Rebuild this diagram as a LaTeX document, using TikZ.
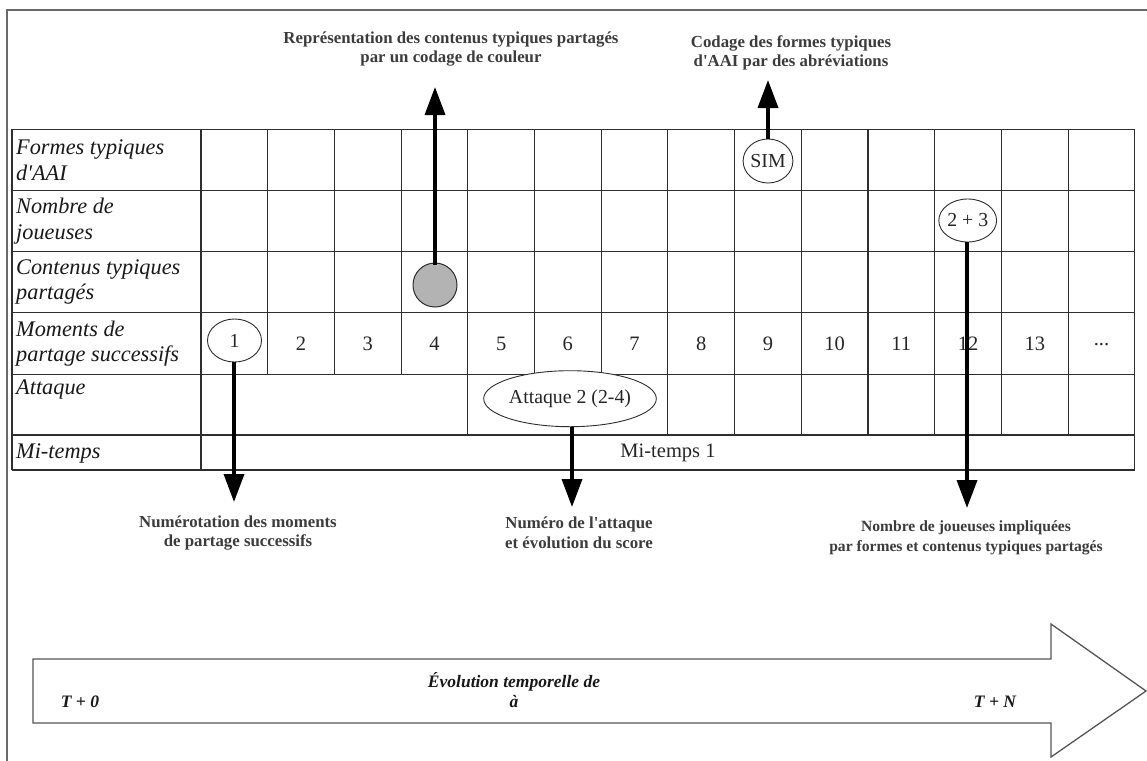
\documentclass[tikz,border=0pt]{standalone}
\usepackage{fontspec}
\setmainfont{Liberation Serif}
\usetikzlibrary{shapes.geometric,arrows.meta}
\definecolor{gridc}{HTML}{2E2E2E}
\definecolor{framec}{HTML}{6A6A6A}
\definecolor{labelc}{HTML}{3C3C3C}
\definecolor{dotc}{HTML}{B3B3B3}
\newcommand{\sq}{\textquotesingle}
\begin{document}
\begin{tikzpicture}[x=1pt,y=-1pt,
  gridline/.style={draw=gridc,line width=1.1pt},
  rowlab/.style={anchor=west,align=left,inner sep=0pt,font=\fontsize{22.3}{25.5}\selectfont\itshape,text=black!90},
  numtxt/.style={inner sep=0pt,font=\fontsize{20.5}{24}\selectfont,text=black!85},
  oval/.style={ellipse,draw=gridc,line width=0.9pt,fill=white,inner sep=0pt,font=\fontsize{19.8}{22}\selectfont,text=black!85},
  note/.style={align=center,inner sep=0pt,font=\fontsize{16.8}{19.5}\selectfont\bfseries,text=labelc},
  bigarrow/.style={-{Triangle[width=20pt,length=28pt]},line width=3.5pt,black},
  timetxt/.style={inner sep=0pt,font=\fontsize{17.5}{20}\selectfont\bfseries\itshape,text=black!90,align=center}]
\useasboundingbox (0,0) rectangle (1147,760);
\fill[white] (0,0) rectangle (1147,760);
% outer frame
\draw[framec,line width=1.4pt] (7,10) rectangle (1200,800);
% table grid
\foreach \y in {129.3,190.5,251.5,312.7,374.3,435,470}
  \draw[gridline] (12,\y) -- (1134.8,\y);
\draw[gridline] (12,129.3) -- (12,470);
\draw[gridline] (201,129.3) -- (201,470);
\draw[gridline] (1134.8,129.3) -- (1134.8,470);
\foreach \k in {1,...,13}
  \draw[gridline] ({201+\k*66.7},129.3) -- ({201+\k*66.7},374.3);
\foreach \k in {4,7,8,9,10,11,12,13}
  \draw[gridline] ({201+\k*66.7},374.3) -- ({201+\k*66.7},435);
% row labels
\node[rowlab] (r1) at (16,160) {Formes typiques\\d\sq AAI};
\node[rowlab] (r2) at (16,221) {Nombre de\\joueuses};
\node[rowlab] (r3) at (16,282) {Contenus typiques\\partagés};
\node[rowlab] (r4) at (16,343.5) {Moments de\\partage successifs};
\node[rowlab,anchor=north west] (r5) at (16,380) {Attaque};
\node[rowlab] (r6) at (16,453) {Mi-temps};
% numbers
\foreach \k/\t in {2/2,3/3,4/4,5/5,6/6,7/7,8/8,9/9,10/10,11/11,12/12,13/13}
  \node[numtxt] (n\k) at ({201+(\k-0.5)*66.7},343.5) {\t};
\node[numtxt] (n14) at ({201+13.5*66.7},345) {...};
\node[numtxt] (mt) at (668,452.5) {Mi-temps 1};
% ovals
\node[oval,minimum width=54pt,minimum height=43pt] (o1) at (234.5,340.5) {1};
\node[circle,draw=gridc,line width=1pt,fill=dotc,minimum size=44pt,inner sep=0pt] (dot) at (435,285) {};
\node[oval,minimum width=44pt,minimum height=44pt] (sim) at (768,161) {SIM};
\node[oval,minimum width=54pt,minimum height=43pt] (o23) at (967.7,220.5) {2 + 3};
\node[oval,minimum width=153pt,minimum height=56pt] (att) at (570,398.7) {Attaque 2 (2-4)};
% arrow ends
\coordinate (t1) at (435,87);
\coordinate (t2) at (768,80);
\coordinate (t3) at (234,502);
\coordinate (t4) at (572,507);
\coordinate (t5) at (967,508);
\draw[bigarrow] ([yshift=-2pt]dot.north) -- (t1);
\draw[bigarrow] (sim.north) -- (t2);
\draw[bigarrow] (o1.south -| t3) -- (t3);
\draw[bigarrow] (att.south -| t4) -- (t4);
\draw[bigarrow] (o23.south -| t5) -- (t5);
% notes
\node[note] (l1) at (451,49) {Représentation des contenus typiques partagés\\par un codage de couleur};
\node[note] (l2) at (791,53) {Codage des formes typiques\\d\sq AAI par des abréviations};
\node[note] (l3) at (238,533) {Numérotation des moments\\de partage successifs};
\node[note] (l4) at (579,533) {Numéro de l\sq attaque\\et évolution du score};
\node[note,font=\fontsize{15.6}{19.5}\selectfont\bfseries] (l5) at (966,538) {Nombre de joueuses impliquées\\par formes et contenus typiques partagés};
% time arrow
\draw[framec!80!black,line width=1.3pt,fill=white] (33,659) -- (1051,659) -- (1051,624) -- (1146,691) -- (1051,757) -- (1051,723) -- (33,723) -- cycle;
\node[timetxt] (t0) at (80,702) {T + 0};
\node[timetxt] (ev) at (514,690) {Évolution temporelle de\\à};
\node[timetxt] (tn) at (995,702) {T + N};
\end{tikzpicture}
\end{document}
